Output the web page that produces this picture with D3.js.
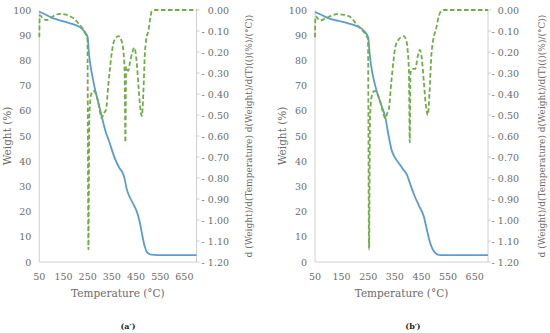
<!DOCTYPE html>
<html><head><meta charset="utf-8">
<script src="https://cdn.jsdelivr.net/npm/d3@7"></script>
<style>body{margin:0;background:#fff}svg{display:block}svg text{font-family:"DejaVu Serif",serif}</style>
</head><body>
<svg id="c" width="550" height="333"></svg>
<script>
const xTicks = [50,150,250,350,450,550,650];
const weightTicks = [0,10,20,30,40,50,60,70,80,90,100];
const derivTicks = [0,-0.1,-0.2,-0.3,-0.4,-0.5,-0.6,-0.7,-0.8,-0.9,-1.0,-1.1,-1.2];
const panelLabels = ["(a\u2032)","(b\u2032)"];

const tempW_a = [50,75,100,125,150,175,200,225,240,250,255,260,275,300,325,340,350,365,380,395,400,405,410,425,440,455,465,475,485,495,505,515,530,550,600,650,700];
const weight_a = [99.3,98.2,97.0,96.2,95.5,94.8,94.0,92.7,91.0,89.2,83,79,71,61,51.5,47.5,44.5,40.5,37.5,35.3,34,32,29.5,25.5,22.8,19.5,16,11,6.5,4,3.2,2.9,2.8,2.7,2.7,2.7,2.7];
const tempD_a = [50,52,65,81,100,120,136,160,177,195,211,225,239,249,253,257,265,273,280,287,294,300,308,318,326,335,343,350,356,365,377,388,398,403,406,409,413,418,425,435,443,452,460,467,474,480,486,492,501,510,515,530,600,700];
const deriv_a = [-0.13,-0.025,-0.04,-0.048,-0.035,-0.022,-0.018,-0.022,-0.03,-0.042,-0.063,-0.082,-0.11,-0.14,-1.14,-0.5,-0.4,-0.385,-0.39,-0.41,-0.44,-0.48,-0.515,-0.49,-0.475,-0.36,-0.27,-0.2,-0.16,-0.135,-0.124,-0.14,-0.2,-0.3,-0.63,-0.27,-0.28,-0.29,-0.25,-0.2,-0.18,-0.24,-0.36,-0.46,-0.505,-0.4,-0.22,-0.14,-0.1,-0.03,-0.005,0,0,0];

const tempW_b = [50,75,100,125,150,175,200,225,240,250,255,260,275,300,314,325,339,350,365,383,396,400,405,409,425,440,459,470,480,490,500,515,530,550,600,650,700];
const weight_b = [99.2,98.0,96.8,96.0,95.4,94.7,93.9,92.6,91.0,89.0,83,78.5,70.5,62,57.5,51,44,41.5,39.2,36.5,34.5,33.3,31.8,30.5,26,22.5,18,13,8.5,5.5,3.8,2.8,2.7,2.7,2.7,2.7,2.7];
const tempD_b = [50,52,69,90,110,132,160,185,207,230,245,249,253,257,265,273,280,288,296,304,314,322,327,337,345,352,362,372,383,392,398,403,406,409,411,418,427,436,444,452,460,467,474,480,487,494,505,515,522,535,600,700];
const deriv_b = [-0.13,-0.03,-0.05,-0.04,-0.028,-0.02,-0.023,-0.035,-0.07,-0.1,-0.127,-0.14,-1.14,-0.5,-0.4,-0.385,-0.39,-0.41,-0.44,-0.48,-0.516,-0.49,-0.476,-0.34,-0.24,-0.175,-0.145,-0.13,-0.124,-0.14,-0.19,-0.3,-0.63,-0.3,-0.286,-0.28,-0.28,-0.22,-0.19,-0.24,-0.36,-0.46,-0.5,-0.4,-0.22,-0.143,-0.09,-0.03,-0.008,0,0,0];

const panels = [
  {x0:39.3, x1:196.5, tw:tempW_a, w:weight_a, td:tempD_a, d:deriv_a, lab:panelLabels[0], leftTitleX:7, rightTitleX:248, tickLabX:229, capX:128},
  {x0:315, x1:488, tw:tempW_b, w:weight_b, td:tempD_b, d:deriv_b, lab:panelLabels[1], leftTitleX:282, rightTitleX:541, tickLabX:519, capX:413}
];
const plotTop = 10, plotBottom = 262;
const svg = d3.select("#c");
const axisColor = "#d0d0d0";
const textColor = "#6b6b6b";
const fmtD = v => v === 0 ? "0.00" : "- " + Math.abs(v).toFixed(2);

panels.forEach(p => {
  const g = svg.append("g").attr("fill",textColor);
  const x = d3.scaleLinear().domain([50,700]).range([p.x0,p.x1]);
  const yW = d3.scaleLinear().domain([0,100]).range([plotBottom,plotTop]);
  const yD = d3.scaleLinear().domain([-1.2,0]).range([plotBottom,plotTop]);

  g.append("line").attr("x1",p.x0).attr("x2",p.x0).attr("y1",plotTop).attr("y2",plotBottom).attr("stroke",axisColor);
  g.append("line").attr("x1",p.x0).attr("x2",p.x1).attr("y1",plotBottom).attr("y2",plotBottom).attr("stroke",axisColor);
  g.append("line").attr("x1",p.x1).attr("x2",p.x1).attr("y1",plotTop).attr("y2",plotBottom).attr("stroke",axisColor);
  g.selectAll(".rt").data(derivTicks).enter().append("line")
    .attr("x1",p.x1).attr("x2",p.x1+3).attr("y1",d=>yD(d)).attr("y2",d=>yD(d)).attr("stroke",axisColor);

  g.selectAll(".xl").data(xTicks).enter().append("text")
    .attr("x",d=>x(d)).attr("y",280).attr("text-anchor","middle").attr("font-size",9.5).text(d=>d);
  g.selectAll(".wl").data(weightTicks).enter().append("text")
    .attr("x",p.x0-8).attr("y",d=>yW(d)+3.5).attr("text-anchor","end").attr("font-size",9.5).text(d=>d);
  g.selectAll(".dl").data(derivTicks).enter().append("text")
    .attr("x",p.tickLabX).attr("y",d=>yD(d)+3.5).attr("text-anchor","end").attr("font-size",9.5).text(fmtD);

  g.append("text").attr("transform",`translate(${p.leftTitleX+4},${(plotTop+plotBottom)/2}) rotate(-90)`)
    .attr("text-anchor","middle").attr("font-size",10.5).text("Weight (%)");
  g.append("text").attr("transform",`translate(${p.rightTitleX+4},${(plotTop+plotBottom)/2}) rotate(-90)`)
    .attr("text-anchor","middle").attr("font-size",9).text("d (Weight)/d(Temperature) d(Weight)/d(T)(()(%)/(\u00B0C))");
  g.append("text").attr("x",(p.x0+p.x1)/2).attr("y",297).attr("text-anchor","middle").attr("font-size",10.5).text("Temperature (\u00B0C)");
  g.append("text").attr("x",p.capX).attr("y",329).attr("text-anchor","middle").attr("font-size",8).attr("font-weight","bold").attr("fill","#222").text(p.lab);

  const lw = d3.line().x((d,i)=>x(p.tw[i])).y(d=>yW(d)).curve(d3.curveMonotoneX);
  g.append("path").attr("d",lw(p.w)).attr("fill","none").attr("stroke","#5b9bd5").attr("stroke-width",1.8);
  const ld = d3.line().x((d,i)=>x(p.td[i])).y(d=>yD(d)).curve(d3.curveMonotoneX);
  g.append("path").attr("d",ld(p.d)).attr("fill","none").attr("stroke","#70ad47").attr("stroke-width",1.8).attr("stroke-dasharray","4.5,2.5");
});
</script>
</body></html>
